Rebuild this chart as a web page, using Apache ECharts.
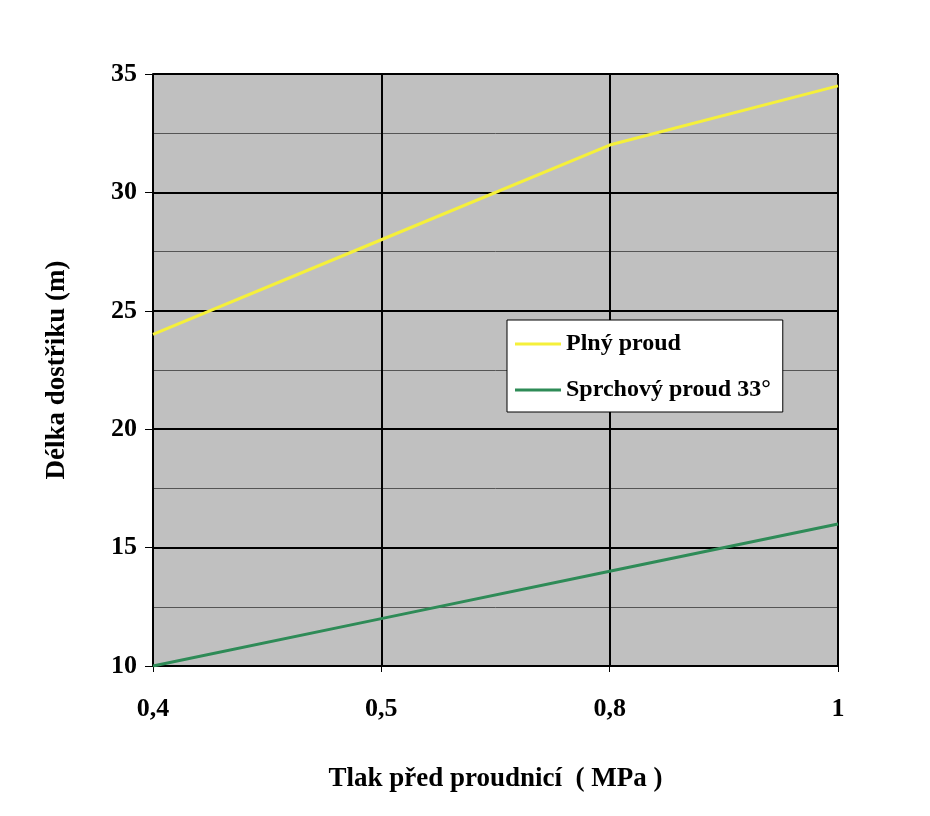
<!DOCTYPE html>
<html><head><meta charset="utf-8">
<script src="https://cdn.jsdelivr.net/npm/echarts@6/dist/echarts.min.js"></script>
<style>html,body{margin:0;padding:0;background:#fff}#c{width:930px;height:816px}</style>
</head><body><div id="c"></div>
<script>
var categories = ['0,4', '0,5', '0,8', '1'];
var plnyProud = [24, 28, 32, 34.5];
var sprchovyProud = [10, 12, 14, 16];
var font = 'Liberation Serif';
var chart = echarts.init(document.getElementById('c'));
chart.setOption({
  animation: false,
  textStyle: {fontFamily: font},
  grid: {left: 153, right: 92, top: 74, bottom: 150, backgroundColor: '#c0c0c0', show: true, borderWidth: 0},
  legend: {
    orient: 'vertical', left: 507, top: 320, itemWidth: 46, itemHeight: 3, itemGap: 22,
    padding: [12, 12, 10, 8], backgroundColor: '#fff', borderColor: '#000', borderWidth: 1,
    textStyle: {fontFamily: font, fontWeight: 'bold', fontSize: 24, color: '#000'},
    data: [{name: 'Plný proud', icon: 'rect'}, {name: 'Sprchový proud 33°', icon: 'rect'}]
  },
  xAxis: {
    type: 'category', data: categories, boundaryGap: false,
    name: 'Tlak před proudnicí  ( MPa )', nameLocation: 'middle', nameGap: 100,
    nameTextStyle: {fontFamily: font, fontWeight: 'bold', fontSize: 27, color: '#000'},
    axisLine: {lineStyle: {color: '#000', width: 2}},
    axisTick: {show: true, inside: false, length: 6, lineStyle: {color: '#000'}},
    axisLabel: {fontFamily: font, fontWeight: 'bold', fontSize: 26, color: '#000', margin: 30},
    splitLine: {show: true, lineStyle: {color: '#000', width: 2}}
  },
  yAxis: {
    type: 'value', min: 10, max: 35, interval: 5,
    name: 'Délka dostřiku (m)', nameLocation: 'middle', nameGap: 82,
    nameTextStyle: {fontFamily: font, fontWeight: 'bold', fontSize: 27, color: '#000'},
    axisLine: {show: true, lineStyle: {color: '#000', width: 2}},
    axisTick: {show: true, length: 8, lineStyle: {color: '#000'}},
    axisLabel: {fontFamily: font, fontWeight: 'bold', fontSize: 26, color: '#000', margin: 16},
    splitLine: {show: true, lineStyle: {color: '#000', width: 2}},
    minorTick: {show: true, splitNumber: 2, length: 0},
    minorSplitLine: {show: true, lineStyle: {color: '#555', width: 1}}
  },
  series: [
    {name: 'Plný proud', type: 'line', data: plnyProud, symbol: 'none', color: '#f5f03a', lineStyle: {width: 3, color: '#f5f03a'}},
    {name: 'Sprchový proud 33°', type: 'line', data: sprchovyProud, symbol: 'none', color: '#2e8b57', lineStyle: {width: 3, color: '#2e8b57'}}
  ]
});
</script></body></html>
